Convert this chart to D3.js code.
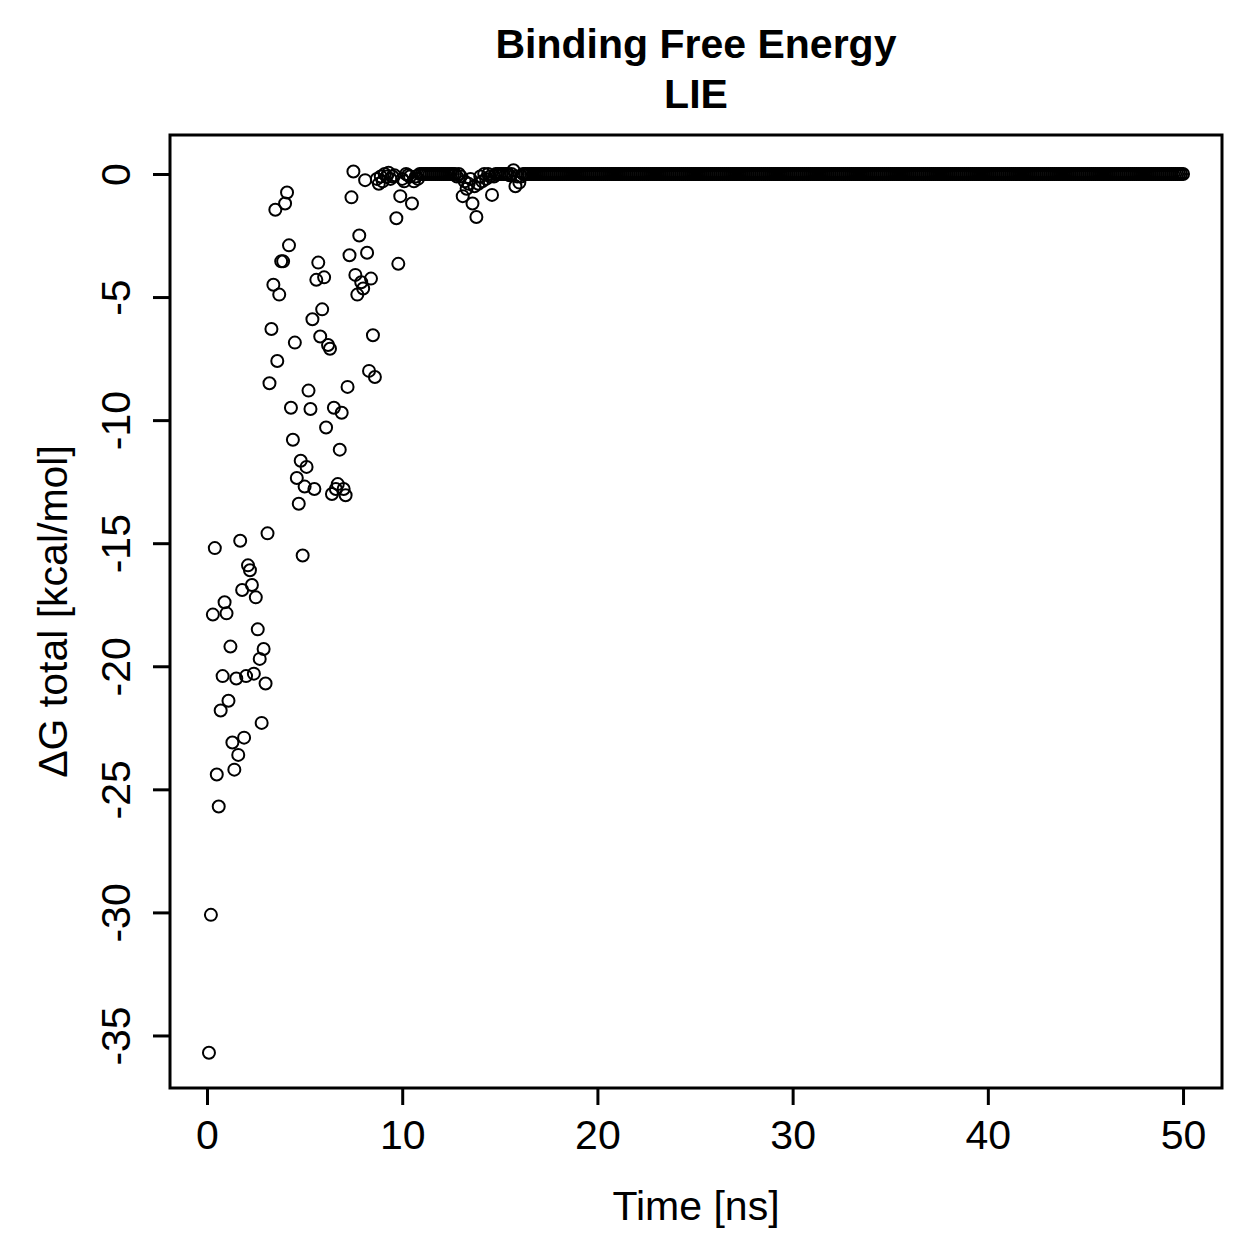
<!DOCTYPE html>
<html>
<head>
<meta charset="utf-8">
<script src="https://cdn.jsdelivr.net/npm/d3@7"></script>
<style>
  body { margin: 0; background: #fff; }
  text { font-family: "Liberation Sans", Arial, Helvetica, sans-serif; fill: #000; }
</style>
</head>
<body>
<svg id="chart" width="1259" height="1259"></svg>
<script>
var dGEarly = [
  -35.7, -30.1, -17.9, -15.2, -24.4, -25.7, -21.8, -20.4, -17.4, -17.85,
  -21.4, -19.2, -23.1, -24.2, -20.5, -23.6, -14.9, -16.9, -22.9, -20.4,
  -15.9, -16.1, -16.7, -20.3, -17.2, -18.5, -19.7, -22.3, -19.3, -20.7,
  -14.6, -8.5, -6.3, -4.5, -1.45, -7.6, -4.9, -3.55, -3.55, -1.2,
  -0.75, -2.9, -9.5, -10.8, -6.85, -12.35, -13.4, -11.65, -15.5, -12.7,
  -11.9, -8.8, -9.55, -5.9, -12.8, -4.3, -3.6, -6.6, -5.5, -4.2,
  -10.3, -6.95, -7.1, -13.0, -9.5, -12.8, -12.6, -11.2, -9.7, -12.8,
  -13.05, -8.65, -3.3, -0.95, 0.1, -4.1, -4.9, -2.5, -4.4, -4.65,
  -0.25, -3.2, -8.0, -4.25, -6.55, -8.25, -0.2, -0.4, -0.1, -0.3,
  0, -0.1, 0.05, -0.2, -0.1, -0.05, -1.8, -3.65, -0.9, -0.2,
  -0.3, 0, -0.05, -0.1, -1.2, -0.3, -0.1, -0.2, 0, 0,
  0, 0, 0, 0, 0, 0, 0, 0, 0, 0,
  0, 0, 0, 0, 0, 0, 0, -0.1, 0, -0.1,
  -0.9, -0.3, -0.6, -0.4, -0.2, -1.2, -0.5, -1.75, -0.4, -0.1,
  -0.3, 0, -0.2, 0, -0.1, -0.85, -0.1, 0, 0, 0,
  0, 0, 0, 0, -0.05, 0, 0.15, -0.5, -0.1, -0.35,
  -0.1, 0
];
// from 16.3 ns to 50 ns the trace sits flat on 0
var dGTail = new Array(338).fill(0);
var dG = dGEarly.concat(dGTail);
var timeNs = d3.range(1, dG.length + 1).map(function(i) { return i / 10; });

var xTicks = [0, 10, 20, 30, 40, 50];
var yTicks = [0, -5, -10, -15, -20, -25, -30, -35];

var svg = d3.select("#chart");
var box = {left: 170, right: 1222, top: 135, bottom: 1088};

// R style 4% padding on both axes
var xr = d3.extent(timeNs), yr = d3.extent(dG);
var xpad = (xr[1] - xr[0]) * 0.04, ypad = (yr[1] - yr[0]) * 0.04;

var x = d3.scaleLinear()
  .domain([xr[0] - xpad, xr[1] + xpad])
  .range([box.left, box.right]);
var y = d3.scaleLinear()
  .domain([yr[0] - ypad, yr[1] + ypad])
  .range([box.bottom, box.top]);

// plain hyphen minus like R
var fmt = function(d) { return String(d); };

// points
svg.append("g")
  .selectAll("circle")
  .data(dG)
  .enter().append("circle")
    .attr("cx", function(d, i) { return x(timeNs[i]); })
    .attr("cy", function(d) { return y(d); })
    .attr("r", 6)
    .attr("fill", "none")
    .attr("stroke", "#000")
    .attr("stroke-width", 2);

// axes
var xAxis = svg.append("g")
  .attr("transform", "translate(0," + box.bottom + ")")
  .call(d3.axisBottom(x).tickValues(xTicks).tickSize(17).tickFormat(fmt));
xAxis.select(".domain").remove();
xAxis.selectAll("line").attr("stroke-width", 3);
xAxis.selectAll("text")
  .attr("y", 61).attr("dy", 0)
  .attr("font-size", 41)
  .attr("font-family", "Liberation Sans, Arial, sans-serif");

var yAxis = svg.append("g")
  .attr("transform", "translate(" + box.left + ",0)")
  .call(d3.axisLeft(y).tickValues(yTicks).tickSize(17).tickFormat(fmt));
yAxis.select(".domain").remove();
yAxis.selectAll("line").attr("stroke-width", 3);
yAxis.selectAll("text")
  .attr("transform", "rotate(-90)")
  .attr("x", 0).attr("y", -40).attr("dy", 0)
  .attr("text-anchor", "middle")
  .attr("font-size", 41)
  .attr("font-family", "Liberation Sans, Arial, sans-serif");

// frame
svg.append("rect")
  .attr("x", box.left).attr("y", box.top)
  .attr("width", box.right - box.left).attr("height", box.bottom - box.top)
  .attr("fill", "none").attr("stroke", "#000").attr("stroke-width", 3);

// titles
var cx = (box.left + box.right) / 2;
svg.append("text")
  .attr("x", cx).attr("y", 58)
  .attr("text-anchor", "middle")
  .attr("font-size", 41).attr("font-weight", "bold")
  .text("Binding Free Energy");
svg.append("text")
  .attr("x", cx).attr("y", 108)
  .attr("text-anchor", "middle")
  .attr("font-size", 41).attr("font-weight", "bold")
  .text("LIE");

svg.append("text")
  .attr("x", cx).attr("y", 1220)
  .attr("text-anchor", "middle")
  .attr("font-size", 41)
  .text("Time [ns]");

svg.append("text")
  .attr("transform", "translate(67," + ((box.top + box.bottom) / 2) + ") rotate(-90)")
  .attr("text-anchor", "middle")
  .attr("font-size", 41)
  .text("ΔG total [kcal/mol]");
</script>
</body>
</html>
